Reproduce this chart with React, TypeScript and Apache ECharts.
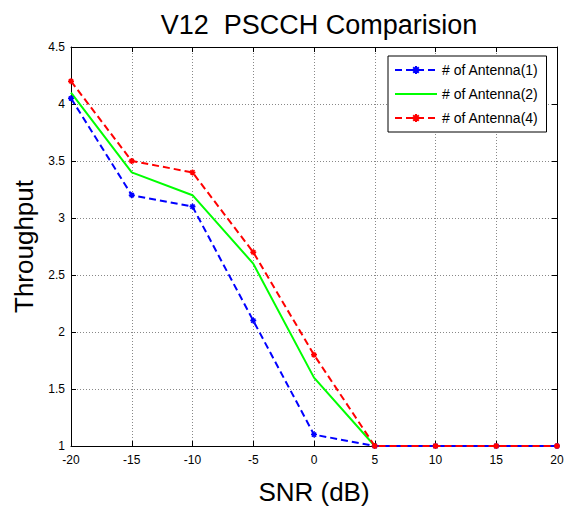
import React, { useEffect, useRef } from "react";
import * as echarts from "echarts";

const snr = [-20, -15, -10, -5, 0, 5, 10, 15, 20];
const ant1 = [4.05, 3.2, 3.1, 2.1, 1.1, 1, 1, 1, 1];
const ant2 = [4.1, 3.4, 3.2, 2.6, 1.6, 1, 1, 1, 1];
const ant4 = [4.2, 3.5, 3.4, 2.7, 1.8, 1, 1, 1, 1];
const names = ["# of Antenna(1)", "# of Antenna(2)", "# of Antenna(4)"];

const star = "path://M0,5L10,5M5,0L5,10M1.5,1.5L8.5,8.5M8.5,1.5L1.5,8.5";
const FONT = "Liberation Sans, Arial, sans-serif";

export default function App() {
  const ref = useRef<HTMLDivElement>(null);
  useEffect(() => {
    const chart = echarts.init(ref.current!, null, { renderer: "svg" });
    const pair = (arr: number[]) => snr.map((x, i) => [x, arr[i]]);
    const axBase = {
      type: "value" as const,
      axisLine: { show: true, onZero: false, lineStyle: { color: "#000", width: 1 } },
      axisTick: { show: true, inside: true, length: 5, lineStyle: { color: "#000" } },
    };
    const grid = { show: true, lineStyle: { color: "#888", type: [1, 2], width: 1 } };
    chart.setOption({
      animation: false,
      backgroundColor: "#fff",
      title: {
        text: "V12  PSCCH Comparision",
        left: 314,
        textAlign: "center",
        top: 6,
        textStyle: { fontFamily: FONT, fontWeight: "normal", fontSize: 27, color: "#000" },
      },
      grid: { left: 71, right: 12, top: 47, bottom: 64 },
      legend: {
        orient: "vertical",
        left: 388,
        top: 56,
        itemWidth: 42,
        itemHeight: 10,
        itemGap: 10,
        padding: [7, 8, 7, 6],
        borderColor: "#000",
        borderWidth: 1,
        backgroundColor: "#fff",
        textStyle: { fontFamily: FONT, fontSize: 14, color: "#000" },
        data: [
          { name: names[0] },
          { name: names[1], itemStyle: { opacity: 0 } },
          { name: names[2] },
        ],
      },
      xAxis: [
        {
          ...axBase,
          min: -20,
          max: 20,
          interval: 5,
          name: "SNR (dB)",
          nameLocation: "middle",
          nameGap: 33,
          nameTextStyle: { fontFamily: FONT, fontSize: 26, color: "#000" },
          axisLabel: { fontFamily: FONT, fontSize: 12, color: "#000", margin: 8 },
          splitLine: grid,
        },
        {
          ...axBase,
          position: "top",
          min: -20,
          max: 20,
          interval: 5,
          axisLabel: { show: false },
          splitLine: { show: false },
        },
      ],
      yAxis: [
        {
          ...axBase,
          min: 1,
          max: 4.5,
          interval: 0.5,
          name: "Throughput",
          nameLocation: "middle",
          nameGap: 32,
          nameTextStyle: { fontFamily: FONT, fontSize: 26, color: "#000" },
          axisLabel: { fontFamily: FONT, fontSize: 12, color: "#000", margin: 6 },
          splitLine: grid,
        },
        {
          ...axBase,
          position: "right",
          min: 1,
          max: 4.5,
          interval: 0.5,
          axisLabel: { show: false },
          splitLine: { show: false },
        },
      ],
      series: [
        {
          name: names[0],
          type: "line",
          data: pair(ant1),
          symbol: star,
          symbolSize: 6,
          showAllSymbol: true,
          itemStyle: { color: "#0000ff", borderColor: "#0000ff", borderWidth: 1.5 },
          lineStyle: { color: "#0000ff", width: 2, type: [7, 4] },
          z: 3,
        },
        {
          name: names[1],
          type: "line",
          data: pair(ant2),
          symbol: "none",
          itemStyle: { color: "#00ff00" },
          lineStyle: { color: "#00ff00", width: 2 },
          z: 2,
        },
        {
          name: names[2],
          type: "line",
          data: pair(ant4),
          symbol: star,
          symbolSize: 6,
          showAllSymbol: true,
          itemStyle: { color: "#ff0000", borderColor: "#ff0000", borderWidth: 1.5 },
          lineStyle: { color: "#ff0000", width: 2, type: [7, 4] },
          z: 4,
        },
      ],
    });
    return () => chart.dispose();
  }, []);
  return (
    <div
      ref={ref}
      style={{ position: "fixed", left: 0, top: 0, width: 569, height: 510 }}
    />
  );
}
